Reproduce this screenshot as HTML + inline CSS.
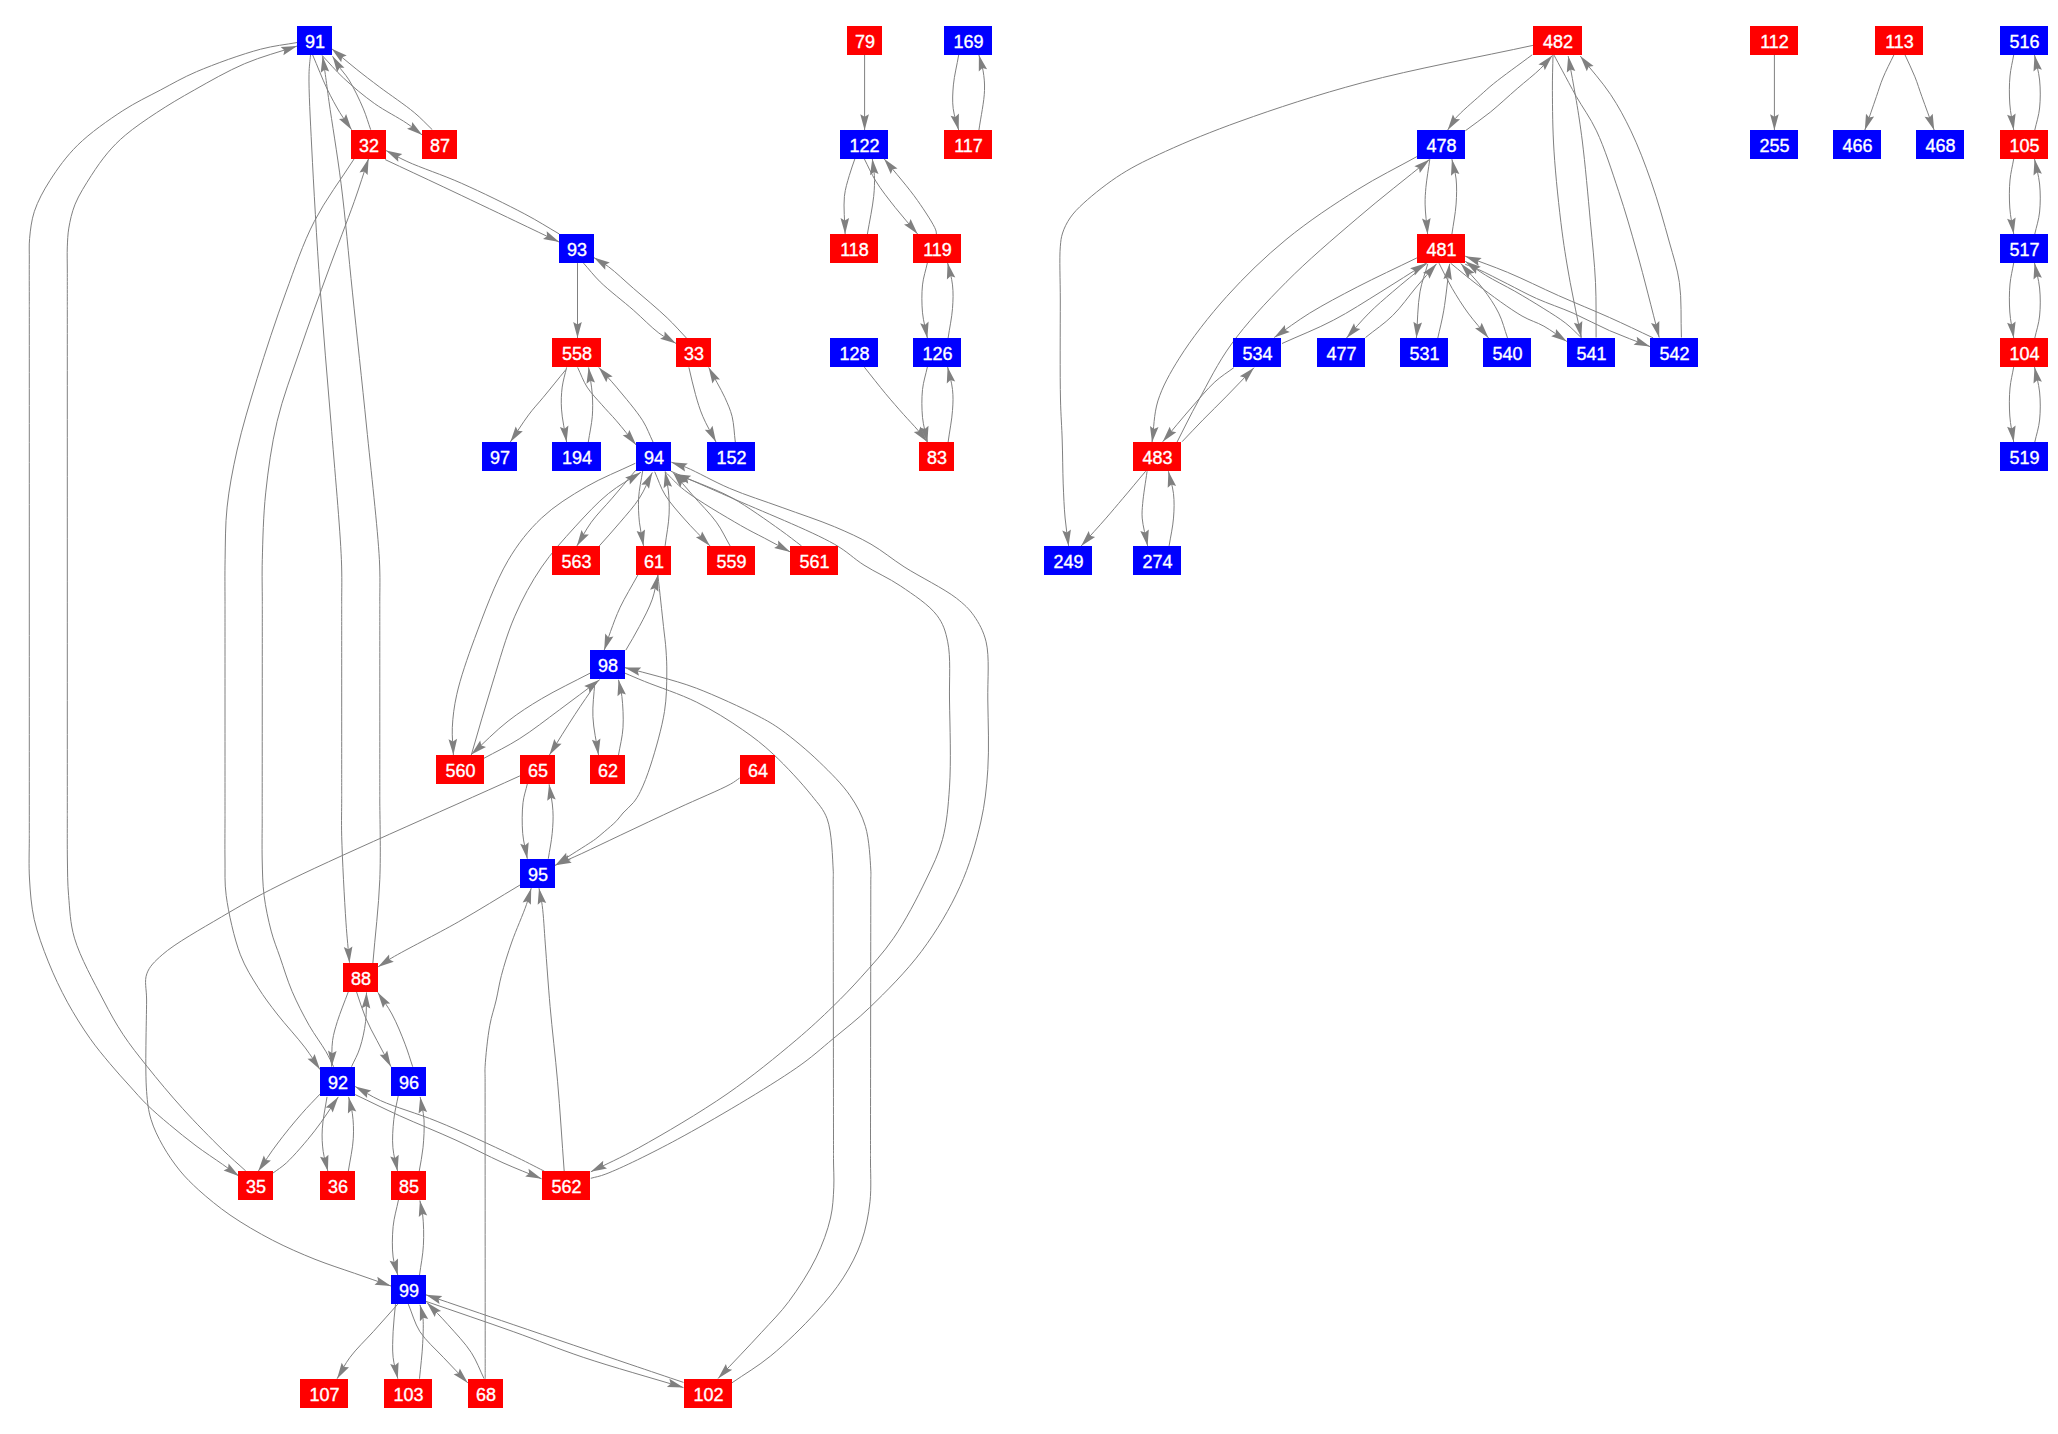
<!DOCTYPE html>
<html><head><meta charset="utf-8"><style>
html,body{margin:0;padding:0;background:#fff;width:2058px;height:1434px;overflow:hidden}
svg{position:absolute;left:0;top:0}
text{font-family:"Liberation Sans",sans-serif;font-size:18px;fill:#fff;stroke:#fff;stroke-width:0.35px;text-anchor:middle}
</style></head><body>
<svg width="2058" height="1434" viewBox="0 0 2058 1434">
<g fill="none" stroke="#808080" stroke-width="1">
<path d="M2013.7,55.0 C2012.5,62.0 2010.7,68.5 2010.0,76.0 C2009.2,84.6 2009.2,94.9 2009.8,104.0 C2010.4,112.9 2012.4,121.3 2013.7,130.0"/>
<path d="M2034.8,130.0 C2036.4,122.7 2038.8,115.8 2039.6,108.0 C2040.5,99.3 2040.5,89.0 2039.6,80.0 C2038.7,71.4 2036.2,63.3 2034.5,55.0"/>
<path d="M2013.7,159.0 C2012.5,166.0 2010.7,172.5 2010.0,180.0 C2009.2,188.6 2009.2,198.9 2009.8,208.0 C2010.4,216.9 2012.4,225.3 2013.7,234.0"/>
<path d="M2034.8,234.0 C2036.4,226.7 2038.8,219.8 2039.6,212.0 C2040.5,203.3 2040.5,193.0 2039.6,184.0 C2038.7,175.4 2036.2,167.3 2034.5,159.0"/>
<path d="M2013.7,263.0 C2012.5,270.0 2010.7,276.5 2010.0,284.0 C2009.2,292.6 2009.2,302.9 2009.8,312.0 C2010.4,320.9 2012.4,329.3 2013.7,338.0"/>
<path d="M2034.8,338.0 C2036.4,330.7 2038.8,323.8 2039.6,316.0 C2040.5,307.3 2040.5,297.0 2039.6,288.0 C2038.7,279.4 2036.2,271.3 2034.5,263.0"/>
<path d="M2013.7,367.0 C2012.5,374.0 2010.7,380.5 2010.0,388.0 C2009.2,396.6 2009.2,406.9 2009.8,416.0 C2010.4,424.9 2012.4,433.3 2013.7,442.0"/>
<path d="M2034.8,442.0 C2036.4,434.7 2038.8,427.8 2039.6,420.0 C2040.5,411.3 2040.5,401.0 2039.6,392.0 C2038.7,383.4 2036.2,375.3 2034.5,367.0"/>
<path d="M864.6,54.9 L864.6,130.2"/>
<path d="M958.7,54.9 C957.0,64.9 954.3,75.4 953.4,84.9 C952.7,93.2 952.2,100.9 953.2,108.6 C954.1,116.0 956.9,123.0 958.7,130.2"/>
<path d="M978.9,130.2 C980.8,116.9 984.2,101.4 984.5,90.4 C984.8,82.8 984.1,77.1 983.1,70.9 C982.2,65.3 980.3,60.2 978.9,54.9"/>
<path d="M854.9,158.8 C853.0,164.3 851.0,169.6 849.3,175.5 C847.4,182.0 845.3,188.3 844.4,196.4 C843.3,207.1 844.9,221.5 845.1,234.0"/>
<path d="M867.4,234.0 C869.5,221.5 872.6,207.1 873.7,196.4 C874.5,188.4 874.7,182.1 874.4,175.5 C874.1,169.6 873.0,164.3 872.3,158.8"/>
<path d="M864.3,158.8 C868.1,166.2 871.1,173.5 875.8,181.1 C881.1,189.7 888.4,198.8 895.3,207.6 C902.3,216.5 910.2,225.2 917.6,234.0"/>
<path d="M936.4,234.0 C936.2,232.6 936.4,231.8 935.7,229.9 C933.7,224.4 924.9,211.0 917.6,200.6 C908.5,187.6 895.3,172.7 884.1,158.8"/>
<path d="M927.4,262.8 C925.8,270.2 923.4,277.0 922.5,284.9 C921.6,293.6 921.7,303.7 922.5,312.8 C923.4,321.5 925.8,329.7 927.4,338.2"/>
<path d="M948.1,338.2 C949.5,328.3 951.8,317.9 952.5,308.6 C953.1,300.3 953.4,292.6 952.5,284.9 C951.7,277.3 949.3,270.2 947.6,262.8"/>
<path d="M927.4,366.9 C925.8,374.4 923.4,381.5 922.5,389.5 C921.6,398.3 921.7,408.4 922.5,417.4 C923.4,426.0 925.8,433.9 927.4,442.2"/>
<path d="M948.1,442.2 C949.5,431.6 951.9,419.9 952.5,410.4 C953.1,402.7 953.3,396.6 952.5,389.5 C951.7,382.1 949.3,374.4 947.6,366.9"/>
<path d="M864.4,367.2 C871.4,376.0 878.7,385.4 885.6,393.7 C891.8,401.1 898.0,408.2 903.7,414.6 C908.6,420.1 913.5,425.1 917.6,429.9 C921.2,434.1 924.0,437.9 927.1,441.8"/>
<path d="M1774.4,54.9 L1774.4,130.2"/>
<path d="M1893.9,54.9 C1890.2,62.6 1885.9,70.6 1882.9,78.0 C1880.2,84.5 1878.9,89.5 1876.4,96.6 C1873.1,106.2 1868.7,119.0 1864.8,130.2"/>
<path d="M1905.0,54.9 C1908.3,62.2 1912.0,69.6 1914.9,76.8 C1917.6,83.5 1919.2,89.2 1921.9,96.6 C1925.4,106.4 1930.1,119.0 1934.2,130.2"/>
<path d="M1532.2,54.8 C1519.4,64.4 1503.1,76.0 1493.7,83.6 C1488.0,88.2 1485.5,90.7 1480.3,95.3 C1473.2,101.7 1460.9,112.0 1455.2,118.7 C1451.7,123.0 1450.2,126.3 1447.7,130.1"/>
<path d="M1465.3,130.8 C1473.6,124.5 1482.0,118.8 1490.4,112.1 C1499.3,104.8 1508.5,96.1 1517.2,88.6 C1525.2,81.6 1534.3,74.7 1540.6,68.5 C1545.3,63.9 1548.4,59.8 1552.3,55.5"/>
<path d="M1429.8,159.2 C1428.5,168.6 1426.7,179.2 1425.9,187.4 C1425.4,193.6 1425.0,197.7 1425.1,204.1 C1425.2,212.7 1426.8,224.2 1427.6,234.2"/>
<path d="M1451.9,234.2 C1453.3,224.2 1455.4,213.7 1456.1,204.1 C1456.7,195.4 1456.9,186.8 1456.1,179.0 C1455.3,172.0 1453.3,165.8 1451.9,159.2"/>
<path d="M1553.0,55.1 C1552.8,66.9 1552.3,77.0 1552.4,90.4 C1552.5,107.9 1552.6,129.4 1554.0,151.1 C1555.6,176.1 1559.0,208.1 1562.1,231.9 C1564.6,250.8 1567.1,265.3 1570.2,282.5 C1573.5,300.5 1577.6,319.2 1581.3,337.5"/>
<path d="M1596.1,337.5 C1595.9,319.2 1596.4,301.3 1595.5,282.5 C1594.6,262.7 1592.4,243.5 1590.4,221.8 C1588.1,196.8 1585.1,163.3 1582.3,141.0 C1580.3,125.2 1578.6,114.3 1576.3,100.5 C1573.9,86.0 1570.9,70.9 1568.2,56.1"/>
<path d="M1554.0,55.1 C1556.7,60.1 1559.0,64.5 1562.1,70.2 C1566.2,77.8 1571.1,87.2 1576.3,96.5 C1582.4,107.2 1590.2,117.5 1596.5,130.9 C1604.6,148.0 1611.9,171.2 1618.7,191.5 C1625.4,211.6 1630.7,230.1 1636.9,252.1 C1644.2,278.1 1651.8,309.0 1659.2,337.5"/>
<path d="M1681.4,337.5 C1680.7,319.2 1681.8,299.3 1679.4,282.5 C1677.3,267.9 1673.4,256.8 1669.3,242.0 C1664.3,223.8 1657.8,200.5 1651.1,181.4 C1644.9,163.7 1638.2,146.1 1630.9,130.9 C1624.5,117.6 1618.6,106.5 1610.6,94.5 C1601.9,81.5 1590.4,68.9 1580.3,56.1"/>
<path d="M1416.9,156.6 C1397.0,167.7 1377.6,177.0 1357.2,189.8 C1334.1,204.2 1308.0,221.5 1286.0,239.6 C1264.6,257.2 1244.7,276.5 1226.7,296.5 C1209.2,316.0 1191.3,339.0 1179.3,358.2 C1169.9,373.2 1162.5,386.4 1157.9,400.9 C1153.7,414.5 1154.0,428.5 1152.0,442.4"/>
<path d="M1176.9,442.4 C1184.0,428.5 1190.1,415.7 1198.3,400.9 C1207.9,383.3 1217.9,362.6 1231.5,344.0 C1246.6,323.1 1266.0,302.5 1286.0,282.3 C1307.6,260.5 1333.1,238.9 1357.2,218.3 C1380.9,197.9 1405.4,179.1 1429.5,159.4"/>
<path d="M1416.9,257.9 C1397.0,267.6 1375.8,277.4 1357.2,287.0 C1340.3,295.8 1324.2,304.2 1309.7,313.1 C1296.8,321.1 1286.0,329.4 1274.2,337.5"/>
<path d="M1282.0,343.5 C1299.1,335.7 1316.9,328.9 1333.4,320.2 C1349.8,311.7 1365.3,301.4 1380.9,291.8 C1396.1,282.4 1410.9,272.8 1425.9,263.3"/>
<path d="M1427.1,263.3 C1415.7,272.8 1403.0,282.9 1392.7,291.8 C1384.0,299.3 1376.6,305.5 1369.0,313.1 C1361.2,320.9 1354.0,329.7 1346.5,338.0"/>
<path d="M1365.5,337.5 C1374.5,330.2 1384.3,323.8 1392.7,315.5 C1401.4,307.0 1408.8,296.0 1416.4,287.0 C1423.4,278.9 1429.9,271.5 1436.6,263.8"/>
<path d="M1427.8,263.8 C1425.2,273.1 1421.9,281.2 1420.0,291.8 C1417.6,305.2 1417.6,322.6 1416.4,338.0"/>
<path d="M1437.8,338.0 C1439.8,328.9 1441.9,321.1 1443.7,310.8 C1446.0,297.3 1447.7,279.4 1449.6,263.8"/>
<path d="M1233.8,367.7 C1227.5,372.4 1221.3,376.1 1214.9,381.9 C1207.1,389.0 1199.3,398.7 1191.1,408.0 C1182.0,418.4 1172.2,430.4 1162.7,441.7"/>
<path d="M1182.1,441.7 C1189.1,434.4 1195.8,427.2 1203.0,419.8 C1210.6,412.1 1218.6,404.4 1226.7,396.1 C1235.5,387.1 1244.9,377.2 1254.0,367.7"/>
<path d="M1439.0,263.2 C1443.3,271.6 1447.3,280.1 1452.1,288.3 C1457.0,296.7 1462.2,305.0 1468.1,313.1 C1474.3,321.5 1481.7,329.6 1488.5,337.9"/>
<path d="M1507.5,337.9 C1504.5,329.6 1502.7,321.1 1498.7,313.1 C1494.5,304.6 1488.8,296.3 1482.7,288.3 C1476.2,279.8 1468.1,271.8 1460.8,263.5"/>
<path d="M1450.6,263.2 C1459.8,270.6 1467.9,277.6 1478.3,285.4 C1491.1,295.0 1509.7,308.9 1522.0,316.0 C1530.3,320.8 1536.7,322.1 1543.9,326.2 C1551.6,330.6 1559.3,336.4 1566.9,341.5"/>
<path d="M1581.5,337.9 C1576.3,333.0 1571.7,327.9 1565.8,323.3 C1559.3,318.2 1551.8,313.7 1543.9,308.7 C1534.9,303.0 1524.5,296.8 1514.8,291.2 C1505.1,285.7 1494.3,280.5 1485.6,275.2 C1478.1,270.6 1472.0,266.0 1465.2,261.3"/>
<path d="M1465.2,264.3 C1469.6,266.0 1473.1,267.1 1478.3,269.4 C1486.2,272.8 1497.7,279.1 1507.5,283.9 C1517.2,288.8 1526.3,293.9 1536.6,298.5 C1548.0,303.6 1561.0,307.8 1573.1,313.1 C1585.3,318.5 1596.9,325.1 1609.5,330.6 C1622.6,336.3 1636.5,341.3 1650.0,346.6"/>
<path d="M1653.2,337.9 C1638.7,331.1 1624.7,324.3 1609.5,317.5 C1593.2,310.2 1575.4,303.1 1558.5,295.6 C1541.4,288.0 1523.8,279.1 1507.5,272.3 C1492.8,266.2 1479.3,261.6 1465.2,256.2"/>
<path d="M1535.6,44.8 C1477.8,57.4 1414.8,68.7 1362.3,82.7 C1317.7,94.6 1275.5,108.5 1240.0,121.3 C1211.9,131.4 1186.9,141.6 1165.5,151.4 C1148.7,159.1 1135.3,165.3 1121.6,174.0 C1108.1,182.5 1093.1,194.5 1083.9,202.9 C1077.9,208.4 1073.7,212.6 1070.1,217.9 C1066.8,222.7 1064.2,228.0 1062.6,233.0 C1061.1,237.6 1060.8,240.7 1060.3,246.8 C1059.3,258.7 1060.3,279.5 1060.3,300.0 C1060.3,328.1 1059.9,374.2 1060.5,400.0 C1060.9,416.3 1061.8,426.4 1062.2,440.0 C1062.7,454.3 1062.7,470.2 1063.2,483.9 C1063.7,496.0 1064.1,507.2 1065.1,518.0 C1066.0,527.8 1067.4,536.6 1068.6,545.9"/>
<path d="M1145.7,471.2 C1138.0,480.3 1129.8,490.3 1122.7,498.6 C1116.7,505.7 1112.2,511.1 1106.1,518.1 C1098.7,526.6 1089.5,536.6 1081.2,545.9"/>
<path d="M1147.1,471.2 C1145.6,481.9 1143.4,494.7 1142.7,503.4 C1142.2,509.2 1141.8,512.5 1142.2,518.1 C1142.8,525.9 1145.8,536.6 1147.6,545.9"/>
<path d="M1169.1,545.9 C1170.6,536.6 1172.8,527.1 1173.5,518.1 C1174.2,509.7 1174.4,501.6 1173.5,493.7 C1172.6,486.0 1170.1,478.7 1168.4,471.2"/>
<path d="M312.6,54.8 C317.5,66.2 322.2,78.7 327.1,88.9 C331.3,97.6 335.5,105.3 339.8,112.5 C343.7,118.8 347.7,124.0 351.6,129.7"/>
<path d="M370.7,129.7 C368.2,122.8 366.5,116.3 363.4,108.9 C359.6,99.9 353.8,87.7 348.9,79.8 C345.3,74.0 340.9,69.7 338.0,65.3 C335.8,62.0 334.4,59.3 332.6,56.3"/>
<path d="M322.1,55.4 C329.2,62.9 335.4,70.5 343.5,78.0 C352.6,86.5 363.6,95.8 374.3,103.4 C384.8,110.9 398.2,117.4 406.9,123.4 C413.2,127.6 417.2,131.2 422.3,135.1"/>
<path d="M432.3,129.7 C426.3,124.0 421.4,118.5 414.2,112.5 C404.7,104.6 390.1,94.9 379.7,87.1 C371.1,80.6 364.0,75.3 356.2,69.0 C348.0,62.5 339.8,55.4 331.7,48.7"/>
<path d="M385.2,159.6 C404.5,168.7 422.8,177.2 443.2,186.8 C466.0,197.6 494.6,211.2 515.7,221.3 C532.1,229.1 544.7,235.2 559.3,242.1"/>
<path d="M559.3,234.0 C547.8,227.3 538.2,221.1 524.8,214.0 C507.0,204.6 481.8,192.3 461.3,183.2 C442.7,174.9 420.7,167.8 406.9,161.4 C398.2,157.4 393.0,154.2 386.1,150.6"/>
<path d="M310.5,54.8 C310.0,61.3 309.2,65.8 309.0,74.4 C308.7,90.9 310.3,118.9 311.7,147.0 C313.6,186.1 316.8,240.8 320.0,287.1 C323.2,332.8 327.4,377.6 331.0,423.0 C334.6,468.5 340.1,527.6 341.4,559.7 C342.1,577.1 341.7,590.5 341.7,600.0 C341.7,605.2 341.7,605.7 341.7,612.0 C341.7,636.3 341.7,763.7 341.7,788.0 C341.7,794.3 341.7,794.9 341.7,800.0 C341.7,808.8 341.3,821.6 341.7,836.3 C342.3,859.0 344.4,899.5 346.0,922.8 C347.1,938.7 348.3,949.4 349.5,962.7"/>
<path d="M372.8,963.9 C375.1,935.8 378.7,907.2 379.8,879.5 C380.9,852.6 379.8,814.8 379.8,800.0 C379.8,794.2 379.8,794.3 379.8,788.0 C379.8,763.7 379.8,636.3 379.8,612.0 C379.8,605.7 379.8,605.2 379.8,600.0 C379.8,590.5 380.3,577.0 379.4,559.7 C377.7,528.1 371.0,470.5 366.5,426.0 C362.0,381.6 356.9,335.1 352.5,292.9 C348.5,254.6 345.3,217.0 341.0,183.2 C337.3,154.0 331.8,121.5 329.0,101.6 C327.4,90.1 326.5,82.5 325.3,74.4 C324.4,67.8 323.5,62.3 322.6,56.3"/>
<path d="M297.2,42.5 C285.0,44.7 274.3,45.6 260.6,49.2 C242.0,54.1 214.6,64.0 196.5,71.7 C182.6,77.7 172.6,83.6 160.5,90.0 C148.0,96.6 135.6,102.4 122.8,110.7 C108.1,120.3 90.2,132.8 77.6,145.2 C66.4,156.2 57.5,168.7 50.0,180.4 C43.4,190.7 37.8,201.1 34.4,211.3 C31.4,220.4 30.4,229.9 29.6,238.5 C28.9,246.1 29.4,251.7 29.3,260.0 C29.2,271.3 29.3,290.6 29.3,300.0 C29.3,305.2 29.3,305.1 29.3,312.0 C29.3,357.5 29.3,782.5 29.3,828.0 C29.3,834.9 29.3,834.9 29.3,840.0 C29.3,849.3 28.7,865.9 29.5,879.0 C30.3,892.3 31.2,905.8 34.2,919.3 C37.4,933.5 42.9,948.1 48.4,961.9 C53.9,975.7 60.4,989.3 67.4,1002.2 C74.3,1014.8 82.4,1027.6 90.0,1038.4 C96.6,1047.8 103.2,1055.5 109.9,1063.6 C116.4,1071.4 123.4,1079.0 129.8,1086.1 C135.7,1092.6 140.7,1098.6 147.0,1104.7 C153.8,1111.4 161.6,1118.0 169.5,1124.6 C177.9,1131.7 187.1,1139.1 196.0,1145.8 C204.7,1152.3 214.7,1158.8 222.5,1164.3 C228.7,1168.7 233.6,1172.2 239.1,1176.2"/>
<path d="M245.7,1170.9 C238.0,1163.8 231.1,1158.1 222.5,1149.7 C210.9,1138.4 195.5,1122.7 182.8,1108.7 C170.3,1094.9 157.6,1079.6 147.0,1066.3 C138.1,1055.1 130.4,1045.6 123.1,1034.5 C115.8,1023.5 110.2,1013.3 103.3,1000.0 C94.2,982.5 80.1,957.3 74.5,938.2 C70.0,923.0 69.8,909.2 68.6,895.6 C67.5,883.2 67.6,872.2 67.4,860.0 C67.2,847.1 67.3,829.4 67.3,820.0 C67.3,814.8 67.3,814.9 67.3,808.0 C67.3,763.5 67.3,356.5 67.3,312.0 C67.3,305.1 67.3,304.9 67.3,300.0 C67.3,292.3 67.3,279.3 67.3,270.0 C67.3,261.8 67.0,254.2 67.3,246.9 C67.6,240.3 67.7,234.7 68.8,228.1 C70.1,220.6 71.8,212.3 75.1,204.2 C78.9,194.8 85.7,184.3 91.4,175.4 C96.6,167.3 101.9,159.7 107.7,152.8 C113.2,146.3 118.3,141.1 125.3,135.2 C134.0,127.8 145.6,119.9 156.7,112.6 C168.5,104.8 180.7,97.6 194.3,90.0 C209.7,81.3 227.3,71.1 244.6,63.7 C261.7,56.4 279.7,51.9 297.2,46.0"/>
<path d="M354.3,158.6 C341.0,179.5 325.7,199.2 314.3,221.4 C302.7,244.0 294.9,267.8 285.7,292.9 C275.8,320.0 265.5,351.2 257.1,378.6 C249.5,403.4 242.2,427.4 237.1,450.0 C232.6,470.0 229.1,488.4 227.1,507.1 C225.2,524.9 225.4,543.3 225.1,559.7 C224.8,574.0 225.0,590.5 225.0,600.0 C225.0,605.2 225.0,605.6 225.0,612.0 C225.0,637.9 225.0,782.1 225.0,808.0 C225.0,814.4 225.0,814.8 225.0,820.0 C225.0,829.4 224.8,847.1 225.0,860.0 C225.2,872.2 224.4,882.3 226.2,895.6 C228.5,912.9 234.1,938.3 240.4,954.8 C245.4,967.7 251.8,977.5 258.2,987.7 C264.1,997.2 270.0,1004.8 277.1,1014.0 C285.4,1024.7 297.6,1037.7 305.3,1047.9 C311.2,1055.8 315.1,1062.4 320.0,1069.6"/>
<path d="M333.6,1066.7 C331.1,1061.7 329.2,1057.3 326.0,1051.7 C321.6,1044.0 314.5,1034.8 309.1,1025.3 C303.2,1014.8 297.0,1002.9 292.1,991.4 C287.3,980.2 283.7,967.8 280.0,957.2 C276.8,947.9 273.7,940.6 271.2,931.1 C268.3,920.3 265.6,907.5 264.1,895.6 C262.6,883.8 262.5,872.2 262.2,860.0 C261.9,847.1 262.2,829.4 262.2,820.0 C262.2,814.8 262.2,814.4 262.2,808.0 C262.2,782.1 262.3,637.9 262.3,612.0 C262.3,605.6 262.3,605.2 262.3,600.0 C262.3,590.5 261.9,574.8 262.3,559.7 C262.8,540.2 263.3,515.5 265.7,492.9 C268.2,469.4 271.5,445.0 277.1,421.4 C282.8,397.4 291.7,374.4 300.0,350.0 C308.8,324.0 319.2,295.6 328.6,270.0 C337.3,246.2 347.1,221.6 354.3,201.4 C359.9,185.5 363.8,172.9 368.6,158.6"/>
<path d="M519.9,775.9 C439.9,812.2 332.6,858.6 280.0,884.9 C253.6,898.1 240.9,905.4 221.5,916.9 C201.6,928.7 175.0,943.4 162.2,954.8 C154.6,961.5 149.4,966.4 146.8,973.8 C144.1,981.4 146.6,988.6 146.6,1000.0 C146.5,1021.2 144.9,1069.8 146.6,1091.4 C147.5,1103.4 148.3,1110.3 151.0,1119.3 C153.7,1128.4 158.1,1137.3 162.9,1145.8 C167.8,1154.5 173.9,1163.3 180.1,1170.9 C185.9,1178.0 191.5,1183.4 198.7,1190.0 C207.6,1198.0 218.5,1207.0 230.0,1215.0 C242.8,1223.8 258.1,1232.7 272.5,1240.2 C286.5,1247.4 301.0,1253.7 315.0,1259.3 C328.3,1264.6 341.7,1268.8 354.6,1273.3 C367.0,1277.6 378.9,1281.8 391.0,1286.0"/>
<path d="M348.3,991.8 C344.6,1001.7 340.1,1012.7 337.3,1021.6 C335.2,1028.5 333.6,1033.5 332.6,1040.4 C331.5,1048.4 332.0,1058.0 331.7,1066.7"/>
<path d="M351.5,1066.7 C354.3,1060.5 357.7,1054.9 359.9,1047.9 C362.5,1040.0 364.5,1030.6 365.6,1021.6 C366.7,1012.1 366.2,1002.1 366.5,992.4"/>
<path d="M356.5,991.8 C359.6,1000.5 362.1,1009.5 365.6,1017.8 C368.9,1025.7 372.8,1032.6 376.9,1040.4 C381.3,1048.9 386.3,1058.0 391.0,1066.7"/>
<path d="M412.7,1066.7 C410.1,1059.2 408.2,1052.2 405.1,1044.2 C401.5,1034.8 396.8,1023.1 391.9,1014.0 C387.6,1006.0 382.5,999.6 377.8,992.4"/>
<path d="M320.0,1094.1 C313.9,1100.6 308.0,1106.4 301.6,1113.8 C293.8,1122.7 284.5,1134.0 277.1,1144.0 C270.2,1153.1 264.5,1162.2 258.2,1171.3"/>
<path d="M272.9,1173.1 C277.5,1169.7 281.4,1167.5 286.5,1162.8 C294.5,1155.3 306.0,1141.9 314.7,1130.8 C323.3,1119.9 330.4,1108.2 338.3,1096.9"/>
<path d="M327.0,1096.9 C325.4,1107.5 322.8,1119.1 322.3,1128.9 C321.8,1137.1 322.2,1144.3 323.2,1151.5 C324.2,1158.3 326.3,1164.7 327.9,1171.3"/>
<path d="M348.3,1171.3 C350.0,1160.3 352.8,1148.5 353.3,1138.3 C353.8,1129.6 353.4,1121.2 352.4,1113.8 C351.6,1107.6 349.9,1102.5 348.6,1096.9"/>
<path d="M398.2,1095.9 C396.7,1103.8 394.7,1111.2 393.8,1119.5 C392.9,1128.4 392.1,1138.8 392.9,1147.7 C393.6,1156.0 396.0,1163.4 397.6,1171.3"/>
<path d="M419.2,1171.3 C420.5,1163.4 422.2,1156.0 423.0,1147.7 C423.9,1138.8 424.5,1128.3 424.0,1119.5 C423.4,1111.5 421.4,1104.4 420.2,1096.9"/>
<path d="M355.2,1094.6 C370.0,1101.6 383.8,1108.6 399.5,1115.7 C417.1,1123.7 438.1,1132.0 456.0,1140.2 C472.4,1147.7 488.0,1156.1 503.0,1162.8 C516.5,1168.8 528.8,1173.5 541.6,1178.8"/>
<path d="M544.5,1171.3 C533.8,1165.9 525.5,1161.4 512.5,1155.3 C492.7,1145.9 460.6,1130.9 437.1,1121.4 C417.1,1113.2 395.6,1107.5 380.6,1100.6 C370.3,1095.9 363.7,1091.2 355.2,1086.5"/>
<path d="M398.5,1199.8 C396.7,1208.8 394.0,1217.4 393.1,1226.6 C392.2,1236.4 392.0,1248.2 393.1,1257.0 C394.0,1263.9 396.2,1269.1 397.8,1275.2"/>
<path d="M419.5,1275.2 C420.8,1265.2 422.9,1255.3 423.4,1245.3 C424.0,1235.3 423.6,1223.2 422.7,1215.0 C422.1,1209.3 420.9,1205.3 419.9,1200.5"/>
<path d="M397.8,1304.1 C389.6,1313.3 381.4,1322.6 373.3,1331.6 C365.4,1340.3 356.3,1348.8 350.0,1357.3 C344.6,1364.5 341.4,1371.6 337.1,1378.7"/>
<path d="M395.5,1304.1 C394.7,1313.3 393.5,1322.6 393.1,1331.6 C392.8,1340.3 392.2,1349.1 393.1,1357.3 C393.9,1364.8 396.2,1371.6 397.8,1378.7"/>
<path d="M419.5,1378.7 C420.6,1366.9 422.2,1354.4 422.7,1343.3 C423.2,1333.4 423.7,1322.3 422.7,1315.3 C422.2,1310.9 420.9,1308.3 419.9,1304.8"/>
<path d="M408.3,1304.1 C412.2,1313.3 414.5,1323.0 419.9,1331.6 C425.9,1340.8 435.3,1348.8 443.3,1357.3 C451.3,1365.9 459.6,1374.4 467.8,1382.9"/>
<path d="M484.1,1378.7 C479.8,1370.0 476.8,1361.1 471.3,1352.6 C465.1,1343.0 455.6,1333.3 447.9,1324.6 C440.9,1316.7 433.9,1309.8 426.9,1302.4"/>
<path d="M425.8,1301.3 C454.9,1311.4 485.7,1321.8 513.2,1331.6 C537.9,1340.4 557.7,1348.7 583.2,1357.3 C613.5,1367.4 650.1,1377.5 683.5,1387.6"/>
<path d="M683.5,1382.4 C665.6,1376.4 651.2,1371.5 629.9,1364.3 C598.4,1353.6 549.3,1336.9 513.2,1324.6 C482.0,1314.0 454.9,1304.7 425.8,1294.8"/>
<path d="M577.5,263.1 L577.5,338.0"/>
<path d="M583.5,263.1 C589.1,269.3 593.4,275.2 600.2,281.9 C609.2,290.7 623.4,301.3 633.7,310.4 C642.7,318.3 651.0,327.1 658.8,333.0 C664.9,337.5 670.3,339.9 676.0,343.4"/>
<path d="M686.4,338.0 C680.0,331.3 674.7,325.0 667.2,317.9 C657.7,308.8 644.1,297.6 633.7,288.6 C624.7,280.8 616.0,272.3 608.6,266.8 C603.2,262.9 598.8,260.7 593.9,257.6"/>
<path d="M565.9,369.6 C558.3,378.8 550.0,389.2 543.2,397.4 C537.8,403.9 533.5,408.3 528.6,414.9 C522.6,422.9 516.4,433.0 510.3,442.0"/>
<path d="M566.6,367.4 C565.2,374.0 563.1,380.3 562.2,387.1 C561.3,394.2 561.0,401.1 561.5,409.1 C562.1,419.0 564.9,431.1 566.6,442.0"/>
<path d="M588.3,442.0 C589.6,433.5 591.6,424.6 592.3,416.4 C592.8,408.8 592.8,402.1 592.3,394.5 C591.7,385.9 589.8,376.4 588.6,367.4"/>
<path d="M577.6,367.4 C580.8,374.0 583.2,381.0 587.1,387.1 C591.2,393.4 596.8,399.0 601.8,404.7 C606.6,410.2 611.2,414.8 616.4,420.8 C622.6,428.0 629.6,436.9 636.2,445.0"/>
<path d="M653.0,442.0 C649.6,435.0 647.5,428.4 642.8,420.8 C636.4,410.6 624.4,396.8 616.4,387.1 C610.1,379.6 604.7,374.0 598.8,367.4"/>
<path d="M688.9,367.4 C691.1,376.4 693.0,385.9 695.5,394.5 C697.7,402.2 699.6,408.9 702.8,416.4 C706.3,424.8 711.6,433.5 716.0,442.0"/>
<path d="M735.3,442.0 C734.2,433.5 734.0,424.2 732.1,416.4 C730.3,409.5 727.9,404.3 724.8,397.4 C720.6,388.4 714.0,377.4 708.7,367.4"/>
<path d="M635.9,470.1 C628.0,479.4 619.9,489.1 612.2,498.1 C605.0,506.5 597.3,513.9 591.3,522.2 C585.7,529.9 581.7,538.0 576.9,545.9"/>
<path d="M599.3,545.9 C606.3,538.0 613.5,530.2 620.2,522.2 C626.8,514.3 634.0,506.6 639.4,498.1 C644.7,490.0 648.0,481.0 652.3,472.5"/>
<path d="M642.7,470.9 C641.3,479.9 639.1,489.3 638.6,498.1 C638.2,506.4 638.6,514.2 639.4,522.2 C640.3,530.1 642.1,538.0 643.5,545.9"/>
<path d="M665.1,545.9 C666.4,535.3 668.7,524.0 669.1,514.2 C669.5,505.6 669.1,497.6 668.3,490.1 C667.6,483.5 666.2,477.8 665.1,471.7"/>
<path d="M654.7,471.7 C658.2,479.4 660.5,487.4 665.1,494.9 C670.2,503.2 677.3,510.9 684.4,519.0 C692.1,527.9 701.5,536.9 710.0,545.9"/>
<path d="M730.1,545.9 C725.5,538.0 722.1,530.1 716.4,522.2 C709.9,513.1 699.9,503.6 692.4,494.9 C685.6,487.1 679.5,479.9 673.1,472.5"/>
<path d="M665.1,471.7 C671.5,477.8 675.8,483.4 684.4,490.1 C697.8,500.6 725.6,516.7 740.5,525.4 C750.1,530.9 756.4,533.9 764.6,538.2 C773.0,542.7 781.7,547.3 790.2,551.9"/>
<path d="M801.5,545.9 C794.5,540.7 789.1,536.2 780.6,530.2 C768.0,521.2 747.2,506.3 732.5,498.1 C721.0,491.8 710.6,487.9 700.4,483.7 C691.4,480.0 683.3,477.3 674.7,474.1"/>
<path d="M637.8,575.1 C632.0,585.8 625.0,597.1 620.2,607.2 C616.2,615.7 613.4,623.7 610.6,631.3 C608.1,637.9 606.3,643.9 604.2,650.2"/>
<path d="M625.8,650.2 C630.4,642.3 635.1,634.7 639.4,626.4 C644.0,617.8 649.2,608.1 652.3,599.2 C655.1,591.1 656.0,583.1 657.9,575.1"/>
<path d="M635.3,463.3 C618.9,471.2 601.8,477.7 586.2,486.8 C570.6,495.9 554.6,505.7 541.6,518.0 C528.6,530.3 518.2,543.3 508.1,560.4 C495.4,581.8 483.6,614.5 474.6,638.5 C467.2,658.5 460.5,677.9 456.8,694.3 C454.0,706.7 452.8,717.1 452.3,727.7 C451.9,737.3 453.1,745.9 453.4,755.0"/>
<path d="M471.3,755.0 C478.3,731.0 485.1,706.6 492.5,683.1 C499.6,660.4 506.0,636.4 514.8,616.2 C522.6,598.2 531.3,582.2 541.6,567.1 C551.5,552.5 563.6,539.5 575.0,526.9 C585.9,515.0 596.9,502.9 608.5,493.5 C619.0,485.0 630.1,479.3 640.9,472.3"/>
<path d="M590.2,673.1 C574.0,681.6 556.1,690.1 541.6,698.7 C529.2,706.1 519.2,712.4 508.1,721.1 C495.7,730.7 483.5,743.4 471.3,754.5"/>
<path d="M483.5,758.5 C495.4,752.0 507.2,746.5 519.2,738.9 C532.5,730.5 546.1,719.7 559.4,709.9 C572.8,700.0 586.2,689.8 599.6,679.8"/>
<path d="M596.2,683.1 C589.2,693.5 582.3,703.2 575.0,714.4 C566.8,726.9 557.9,741.4 549.4,755.0"/>
<path d="M594.7,683.1 C594.1,694.3 592.4,705.1 592.9,716.6 C593.4,729.0 596.6,742.2 598.5,755.0"/>
<path d="M618.5,755.0 C620.0,745.9 622.4,737.2 623.0,727.7 C623.6,717.7 622.9,705.3 621.9,696.5 C621.1,690.0 619.7,685.4 618.5,679.8"/>
<path d="M527.3,784.0 C525.9,790.3 523.8,795.7 523.0,802.7 C522.0,811.7 521.9,823.7 522.7,833.4 C523.5,842.3 525.8,850.3 527.3,858.7"/>
<path d="M548.3,858.7 C549.6,850.3 551.4,841.7 552.2,833.4 C552.9,825.6 553.4,818.3 552.9,810.4 C552.5,802.0 550.4,793.0 549.1,784.3"/>
<path d="M739.6,778.1 C736.5,780.1 734.9,781.7 730.4,784.2 C720.2,789.8 696.1,799.7 678.3,808.0 C659.4,816.7 637.6,827.1 620.2,835.3 C606.1,842.0 593.4,848.1 581.8,853.5 C572.2,857.9 564.1,861.4 555.3,865.3"/>
<path d="M657.9,575.1 C659.8,592.2 662.0,612.7 663.5,626.5 C664.5,635.8 665.5,642.2 666.0,650.0 C666.5,657.7 666.9,664.4 666.8,673.0 C666.7,684.2 666.7,697.6 664.5,711.4 C661.9,727.9 655.4,750.4 650.7,765.0 C647.3,775.5 643.8,784.6 640.4,791.4 C638.1,796.1 636.2,799.1 633.4,802.6 C630.4,806.3 626.0,809.7 623.0,813.0 C620.6,815.7 619.3,818.0 616.7,820.7 C613.3,824.2 608.0,828.6 604.2,831.8 C601.1,834.4 598.8,836.5 595.8,838.8 C592.6,841.2 589.3,843.2 585.3,845.8 C580.2,849.1 573.2,853.4 567.9,856.9 C563.3,859.9 559.5,862.5 555.3,865.3"/>
<path d="M520.0,885.0 C499.4,897.3 479.4,909.9 458.3,921.9 C436.7,934.2 405.6,949.7 391.8,957.9 C385.4,961.7 382.6,963.9 378.0,966.9"/>
<path d="M485.2,1378.7 C485.2,1374.7 485.2,1373.3 485.2,1366.7 C485.2,1334.2 485.1,1111.2 485.1,1078.7 C485.1,1072.1 484.8,1071.9 485.1,1066.7 C485.6,1057.0 487.6,1037.3 489.8,1025.3 C491.5,1015.8 494.3,1008.4 496.2,1000.0 C498.1,991.8 499.1,984.2 501.4,975.5 C504.1,965.1 507.8,953.4 511.8,942.0 C516.1,929.8 523.1,914.4 526.5,904.4 C528.7,897.9 529.6,893.6 531.2,888.2"/>
<path d="M564.2,1171.2 C562.0,1141.4 560.1,1110.3 557.6,1081.8 C555.3,1055.6 552.2,1030.4 550.1,1006.5 C548.2,984.7 546.7,962.4 545.3,944.1 C544.2,929.7 543.6,915.7 542.2,905.4 C541.3,898.5 540.1,893.9 539.0,888.2"/>
<path d="M670.5,471.0 C690.2,479.7 707.2,487.1 729.7,497.1 C759.7,510.5 810.6,530.6 834.4,544.2 C847.8,551.8 853.4,558.4 864.0,565.1 C875.4,572.4 888.7,577.9 900.6,586.0 C913.2,594.6 929.3,605.0 937.2,615.7 C943.3,623.9 945.5,631.1 947.7,641.8 C950.9,657.1 949.2,678.6 949.5,700.0 C949.9,726.1 951.2,761.8 949.5,787.1 C948.2,806.8 946.8,823.3 942.5,839.4 C938.6,854.1 932.9,865.5 925.9,880.0 C917.3,897.9 905.1,921.4 893.4,938.4 C883.2,953.2 871.6,965.4 861.0,977.3 C851.5,987.9 843.1,996.6 832.9,1006.5 C821.6,1017.5 810.6,1027.8 796.2,1040.0 C777.0,1056.2 752.0,1076.7 727.0,1094.0 C699.8,1112.8 663.6,1134.0 638.4,1148.0 C620.3,1158.0 606.7,1163.9 590.8,1171.8"/>
<path d="M590.8,1178.3 C595.8,1176.9 599.2,1176.6 605.9,1174.0 C621.1,1168.2 650.8,1153.7 677.3,1139.4 C712.3,1120.5 768.3,1087.4 796.2,1068.1 C812.4,1056.9 820.7,1048.9 832.9,1038.9 C845.2,1028.7 856.8,1019.9 869.7,1007.5 C885.9,991.9 906.4,971.5 921.5,951.3 C936.5,931.2 950.0,908.7 960.0,886.5 C969.5,865.5 976.1,842.6 980.8,822.0 C984.9,803.8 986.6,788.4 987.8,769.7 C989.2,748.2 988.1,722.2 987.8,700.0 C987.5,679.7 989.7,657.1 986.1,641.8 C983.5,631.1 979.1,623.2 973.9,615.7 C969.1,608.8 964.3,604.4 956.4,598.2 C944.0,588.5 919.4,576.6 904.1,566.8 C891.7,558.8 882.6,550.9 871.0,544.2 C859.4,537.5 847.8,532.4 834.4,526.7 C818.7,520.1 799.5,513.9 782.1,507.5 C764.6,501.1 746.2,495.4 729.7,488.4 C714.4,481.9 697.0,471.9 686.2,467.4 C680.0,464.8 676.3,463.9 671.3,462.2"/>
<path d="M624.6,673.0 C631.2,675.8 636.3,678.0 644.5,681.4 C657.8,686.8 680.2,694.0 696.7,702.2 C712.9,710.2 729.2,720.4 742.7,729.8 C754.3,737.8 763.0,744.6 773.4,754.3 C785.9,765.9 802.2,783.6 811.8,795.7 C818.5,804.2 823.5,809.0 827.1,818.7 C832.0,832.0 832.5,858.8 833.2,870.0 C833.5,875.4 833.2,875.4 833.2,882.0 C833.2,913.1 833.5,1116.9 833.5,1148.0 C833.5,1154.6 833.5,1155.2 833.5,1160.0 C833.5,1167.2 834.2,1177.9 833.8,1187.2 C833.3,1197.2 833.0,1207.2 830.5,1218.0 C827.6,1230.6 822.5,1244.6 816.0,1257.9 C808.9,1272.5 798.4,1288.6 788.8,1301.5 C780.2,1313.1 771.8,1321.1 761.6,1332.3 C748.9,1346.2 732.6,1363.1 718.1,1378.5"/>
<path d="M731.7,1383.0 C744.7,1374.0 757.6,1366.6 770.7,1355.9 C785.7,1343.6 803.2,1326.4 816.0,1312.3 C826.7,1300.5 835.5,1289.9 843.2,1277.9 C850.6,1266.3 856.9,1254.3 861.4,1241.6 C865.9,1228.9 868.5,1215.2 870.0,1201.7 C871.5,1188.0 870.4,1169.7 870.5,1160.0 C870.5,1154.8 870.5,1154.6 870.5,1148.0 C870.5,1116.9 870.8,913.1 870.8,882.0 C870.8,875.4 871.1,875.2 870.8,870.0 C870.2,860.0 869.3,839.4 865.4,826.4 C861.9,814.9 857.0,805.7 850.1,795.7 C842.2,784.2 830.6,772.8 819.4,762.0 C807.7,750.7 792.5,738.0 781.1,729.8 C772.7,723.8 767.8,721.1 758.1,716.0 C742.7,708.0 714.7,695.2 696.7,688.3 C683.0,683.1 672.1,680.3 659.9,676.8 C648.1,673.4 636.4,670.7 624.6,667.6"/>
</g>
<g fill="#808080" stroke="none">
<path d="M2013.7,130.0 L2007.1,114.8 L2011.7,116.6 L2015.6,113.5 Z"/>
<path d="M2034.5,55.0 L2041.9,69.8 L2037.2,68.2 L2033.5,71.5 Z"/>
<path d="M2013.7,234.0 L2007.1,218.8 L2011.7,220.6 L2015.6,217.5 Z"/>
<path d="M2034.5,159.0 L2041.9,173.8 L2037.2,172.2 L2033.5,175.5 Z"/>
<path d="M2013.7,338.0 L2007.1,322.8 L2011.7,324.6 L2015.6,321.5 Z"/>
<path d="M2034.5,263.0 L2041.9,277.8 L2037.2,276.2 L2033.5,279.5 Z"/>
<path d="M2013.7,442.0 L2007.1,426.8 L2011.7,428.6 L2015.6,425.5 Z"/>
<path d="M2034.5,367.0 L2041.9,381.8 L2037.2,380.2 L2033.5,383.5 Z"/>
<path d="M864.6,130.2 L860.3,114.2 L864.6,116.7 L868.9,114.2 Z"/>
<path d="M958.7,130.2 L950.6,115.8 L955.4,117.1 L958.9,113.6 Z"/>
<path d="M978.9,54.9 L987.1,69.3 L982.4,67.9 L978.8,71.4 Z"/>
<path d="M845.1,234.0 L840.5,218.1 L844.8,220.5 L849.1,218.0 Z"/>
<path d="M872.3,158.8 L878.5,174.1 L874.0,172.1 L870.0,175.2 Z"/>
<path d="M917.6,234.0 L904.0,224.6 L908.9,223.7 L910.6,219.0 Z"/>
<path d="M884.1,158.8 L897.5,168.6 L892.6,169.3 L890.8,173.9 Z"/>
<path d="M927.4,338.2 L920.2,323.3 L924.9,324.9 L928.6,321.6 Z"/>
<path d="M947.6,262.8 L955.3,277.5 L950.6,276.0 L946.9,279.4 Z"/>
<path d="M927.4,442.2 L920.1,427.4 L924.8,429.0 L928.5,425.7 Z"/>
<path d="M947.6,366.9 L955.2,381.6 L950.5,380.1 L946.8,383.4 Z"/>
<path d="M927.1,441.8 L913.8,432.0 L918.7,431.3 L920.5,426.6 Z"/>
<path d="M1774.4,130.2 L1770.1,114.2 L1774.4,116.7 L1778.7,114.2 Z"/>
<path d="M1864.8,130.2 L1866.0,113.7 L1869.2,117.5 L1874.1,116.5 Z"/>
<path d="M1934.2,130.2 L1924.6,116.7 L1929.5,117.5 L1932.7,113.7 Z"/>
<path d="M1447.7,130.1 L1452.9,114.4 L1455.1,118.9 L1460.1,119.2 Z"/>
<path d="M1552.3,55.5 L1544.8,70.3 L1543.3,65.5 L1538.4,64.5 Z"/>
<path d="M1427.6,234.2 L1422.0,218.6 L1426.5,220.8 L1430.6,217.9 Z"/>
<path d="M1451.9,159.2 L1459.4,174.0 L1454.7,172.5 L1451.0,175.8 Z"/>
<path d="M1581.3,337.5 L1573.9,322.7 L1578.6,324.3 L1582.3,321.0 Z"/>
<path d="M1568.2,56.1 L1575.3,71.1 L1570.6,69.4 L1566.8,72.6 Z"/>
<path d="M1659.2,337.5 L1651.0,323.1 L1655.8,324.4 L1659.3,320.9 Z"/>
<path d="M1580.3,56.1 L1593.6,66.0 L1588.7,66.7 L1586.8,71.3 Z"/>
<path d="M1152.0,442.4 L1150.0,425.9 L1153.9,429.0 L1158.5,427.1 Z"/>
<path d="M1429.5,159.4 L1419.8,172.9 L1419.0,168.0 L1414.4,166.2 Z"/>
<path d="M1274.2,337.5 L1284.9,324.9 L1285.3,329.9 L1289.8,332.0 Z"/>
<path d="M1425.9,263.3 L1414.7,275.5 L1414.5,270.5 L1410.1,268.2 Z"/>
<path d="M1346.5,338.0 L1354.0,323.3 L1355.5,328.0 L1360.4,329.0 Z"/>
<path d="M1436.6,263.8 L1429.4,278.7 L1427.8,274.0 L1422.9,273.1 Z"/>
<path d="M1416.4,338.0 L1413.4,321.7 L1417.5,324.6 L1422.0,322.4 Z"/>
<path d="M1449.6,263.8 L1451.9,280.2 L1448.0,277.2 L1443.4,279.1 Z"/>
<path d="M1162.7,441.7 L1169.7,426.7 L1171.4,431.3 L1176.3,432.2 Z"/>
<path d="M1254.0,367.7 L1246.0,382.2 L1244.7,377.4 L1239.8,376.2 Z"/>
<path d="M1488.5,337.9 L1475.0,328.3 L1479.9,327.5 L1481.7,322.8 Z"/>
<path d="M1460.8,263.5 L1474.6,272.7 L1469.7,273.7 L1468.2,278.4 Z"/>
<path d="M1566.9,341.5 L1551.2,336.2 L1555.7,334.0 L1556.0,329.1 Z"/>
<path d="M1465.2,261.3 L1480.8,266.8 L1476.4,268.9 L1476.0,273.9 Z"/>
<path d="M1650.0,346.6 L1633.6,344.7 L1637.5,341.7 L1636.7,336.7 Z"/>
<path d="M1465.2,256.2 L1481.7,257.9 L1477.8,261.0 L1478.6,265.9 Z"/>
<path d="M1068.6,545.9 L1062.3,530.6 L1066.9,532.5 L1070.9,529.5 Z"/>
<path d="M1081.2,545.9 L1088.7,531.1 L1090.2,535.8 L1095.1,536.9 Z"/>
<path d="M1147.6,545.9 L1140.3,531.0 L1145.0,532.6 L1148.8,529.4 Z"/>
<path d="M1168.4,471.2 L1176.1,485.9 L1171.4,484.4 L1167.7,487.8 Z"/>
<path d="M351.6,129.7 L339.0,118.9 L344.0,118.6 L346.1,114.1 Z"/>
<path d="M332.6,56.3 L344.5,67.8 L339.5,67.8 L337.1,72.2 Z"/>
<path d="M422.3,135.1 L407.0,128.8 L411.6,126.9 L412.2,122.0 Z"/>
<path d="M331.7,48.7 L346.7,55.6 L342.1,57.3 L341.2,62.2 Z"/>
<path d="M559.3,242.1 L543.0,239.1 L547.1,236.3 L546.7,231.3 Z"/>
<path d="M386.1,150.6 L402.3,154.1 L398.0,156.8 L398.3,161.8 Z"/>
<path d="M349.5,962.7 L343.8,947.1 L348.3,949.3 L352.4,946.4 Z"/>
<path d="M322.6,56.3 L329.2,71.5 L324.6,69.7 L320.7,72.8 Z"/>
<path d="M239.1,1176.2 L223.6,1170.4 L228.1,1168.3 L228.6,1163.4 Z"/>
<path d="M297.2,46.0 L283.4,55.2 L284.4,50.3 L280.7,47.0 Z"/>
<path d="M320.0,1069.6 L307.5,1058.8 L312.4,1058.4 L314.6,1053.9 Z"/>
<path d="M368.6,158.6 L367.6,175.1 L364.3,171.4 L359.5,172.4 Z"/>
<path d="M391.0,1286.0 L374.5,1284.8 L378.3,1281.6 L377.3,1276.7 Z"/>
<path d="M331.7,1066.7 L328.0,1050.6 L332.2,1053.3 L336.6,1050.9 Z"/>
<path d="M366.5,992.4 L370.3,1008.5 L366.1,1005.9 L361.7,1008.2 Z"/>
<path d="M391.0,1066.7 L379.7,1054.7 L384.6,1054.8 L387.2,1050.6 Z"/>
<path d="M377.8,992.4 L390.2,1003.4 L385.2,1003.7 L383.0,1008.1 Z"/>
<path d="M258.2,1171.3 L263.8,1155.6 L265.9,1160.1 L270.9,1160.5 Z"/>
<path d="M338.3,1096.9 L332.7,1112.5 L330.6,1108.0 L325.6,1107.6 Z"/>
<path d="M327.9,1171.3 L320.0,1156.7 L324.8,1158.1 L328.4,1154.7 Z"/>
<path d="M348.6,1096.9 L356.3,1111.6 L351.6,1110.1 L347.9,1113.4 Z"/>
<path d="M397.6,1171.3 L390.2,1156.4 L394.9,1158.0 L398.7,1154.7 Z"/>
<path d="M420.2,1096.9 L427.1,1112.0 L422.4,1110.2 L418.6,1113.4 Z"/>
<path d="M541.6,1178.8 L525.2,1176.6 L529.2,1173.6 L528.5,1168.7 Z"/>
<path d="M355.2,1086.5 L371.3,1090.5 L367.0,1093.1 L367.1,1098.1 Z"/>
<path d="M397.8,1275.2 L389.6,1260.7 L394.4,1262.1 L398.0,1258.6 Z"/>
<path d="M419.9,1200.5 L427.2,1215.4 L422.5,1213.8 L418.8,1217.1 Z"/>
<path d="M337.1,1378.7 L341.7,1362.8 L344.1,1367.1 L349.0,1367.2 Z"/>
<path d="M397.8,1378.7 L390.2,1364.0 L394.9,1365.5 L398.6,1362.2 Z"/>
<path d="M419.9,1304.8 L428.2,1319.1 L423.4,1317.8 L419.9,1321.3 Z"/>
<path d="M467.8,1382.9 L453.6,1374.3 L458.4,1373.2 L459.8,1368.4 Z"/>
<path d="M426.9,1302.4 L441.1,1311.1 L436.2,1312.2 L434.8,1317.0 Z"/>
<path d="M683.5,1387.6 L666.9,1387.1 L670.6,1383.7 L669.4,1378.8 Z"/>
<path d="M425.8,1294.8 L442.3,1295.9 L438.5,1299.1 L439.5,1304.0 Z"/>
<path d="M577.5,338.0 L573.2,322.0 L577.5,324.5 L581.8,322.0 Z"/>
<path d="M676.0,343.4 L660.1,338.8 L664.4,336.4 L664.6,331.4 Z"/>
<path d="M593.9,257.6 L609.8,262.5 L605.4,264.8 L605.2,269.8 Z"/>
<path d="M510.3,442.0 L515.7,426.4 L517.8,430.8 L522.8,431.2 Z"/>
<path d="M566.6,442.0 L559.9,426.9 L564.6,428.7 L568.4,425.6 Z"/>
<path d="M588.6,367.4 L595.0,382.6 L590.4,380.7 L586.5,383.8 Z"/>
<path d="M636.2,445.0 L622.7,435.3 L627.6,434.5 L629.4,429.9 Z"/>
<path d="M598.8,367.4 L612.7,376.5 L607.8,377.5 L606.3,382.2 Z"/>
<path d="M716.0,442.0 L704.8,429.8 L709.8,430.0 L712.5,425.8 Z"/>
<path d="M708.7,367.4 L720.0,379.4 L715.0,379.3 L712.4,383.5 Z"/>
<path d="M576.9,545.9 L581.5,530.0 L583.9,534.4 L588.9,534.5 Z"/>
<path d="M652.3,472.5 L649.0,488.7 L646.2,484.5 L641.3,484.8 Z"/>
<path d="M643.5,545.9 L636.6,530.9 L641.2,532.6 L645.0,529.4 Z"/>
<path d="M665.1,471.7 L672.1,486.7 L667.4,485.0 L663.6,488.2 Z"/>
<path d="M710.0,545.9 L695.9,537.3 L700.7,536.1 L702.1,531.4 Z"/>
<path d="M673.1,472.5 L686.8,481.8 L681.9,482.7 L680.3,487.4 Z"/>
<path d="M790.2,551.9 L774.1,548.1 L778.3,545.5 L778.1,540.6 Z"/>
<path d="M674.7,474.1 L691.2,475.7 L687.4,478.8 L688.2,483.7 Z"/>
<path d="M604.2,650.2 L605.2,633.6 L608.5,637.4 L613.4,636.4 Z"/>
<path d="M657.9,575.1 L658.4,591.7 L654.8,588.3 L650.1,589.7 Z"/>
<path d="M453.4,755.0 L448.5,739.2 L452.9,741.5 L457.1,738.8 Z"/>
<path d="M640.9,472.3 L629.8,484.6 L629.6,479.7 L625.1,477.4 Z"/>
<path d="M471.3,754.5 L480.2,740.6 L481.3,745.4 L486.0,746.9 Z"/>
<path d="M599.6,679.8 L589.4,692.8 L588.8,687.9 L584.2,685.9 Z"/>
<path d="M549.4,755.0 L554.3,739.1 L556.6,743.6 L561.6,743.7 Z"/>
<path d="M598.5,755.0 L591.9,739.8 L596.5,741.6 L600.4,738.5 Z"/>
<path d="M618.5,679.8 L625.9,694.6 L621.2,693.0 L617.5,696.3 Z"/>
<path d="M527.3,858.7 L520.2,843.8 L524.9,845.4 L528.7,842.2 Z"/>
<path d="M549.1,784.3 L555.7,799.5 L551.1,797.7 L547.2,800.8 Z"/>
<path d="M555.3,865.3 L568.2,854.9 L567.6,859.8 L571.7,862.7 Z"/>
<path d="M555.3,865.3 L566.2,852.8 L566.5,857.8 L571.0,860.0 Z"/>
<path d="M378.0,966.9 L389.1,954.6 L389.3,959.5 L393.8,961.8 Z"/>
<path d="M531.2,888.2 L530.9,904.8 L527.4,901.2 L522.6,902.4 Z"/>
<path d="M539.0,888.2 L546.2,903.1 L541.5,901.5 L537.7,904.7 Z"/>
<path d="M590.8,1171.8 L603.2,1160.8 L602.9,1165.8 L607.0,1168.5 Z"/>
<path d="M671.3,462.2 L687.8,463.4 L684.0,466.6 L685.0,471.5 Z"/>
<path d="M718.1,1378.5 L725.9,1363.9 L727.4,1368.7 L732.2,1369.8 Z"/>
<path d="M624.6,667.6 L641.2,667.5 L637.7,671.0 L639.0,675.8 Z"/>
</g>
<g>
<rect x="297" y="26" width="35" height="29" fill="#0000ff"/>
<text x="315.0" y="48">91</text>
<rect x="847" y="26" width="35" height="29" fill="#ff0000"/>
<text x="865.0" y="48">79</text>
<rect x="944" y="26" width="48" height="29" fill="#0000ff"/>
<text x="968.5" y="48">169</text>
<rect x="1533" y="26" width="49" height="29" fill="#ff0000"/>
<text x="1558.0" y="48">482</text>
<rect x="1750" y="26" width="48" height="29" fill="#ff0000"/>
<text x="1774.5" y="48">112</text>
<rect x="1875" y="26" width="48" height="29" fill="#ff0000"/>
<text x="1899.5" y="48">113</text>
<rect x="2000" y="26" width="48" height="29" fill="#0000ff"/>
<text x="2024.5" y="48">516</text>
<rect x="351" y="130" width="35" height="29" fill="#ff0000"/>
<text x="369.0" y="152">32</text>
<rect x="422" y="130" width="35" height="29" fill="#ff0000"/>
<text x="440.0" y="152">87</text>
<rect x="840" y="130" width="48" height="29" fill="#0000ff"/>
<text x="864.5" y="152">122</text>
<rect x="944" y="130" width="48" height="29" fill="#ff0000"/>
<text x="968.5" y="152">117</text>
<rect x="1417" y="130" width="48" height="29" fill="#0000ff"/>
<text x="1441.5" y="152">478</text>
<rect x="1750" y="130" width="48" height="29" fill="#0000ff"/>
<text x="1774.5" y="152">255</text>
<rect x="1833" y="130" width="48" height="29" fill="#0000ff"/>
<text x="1857.5" y="152">466</text>
<rect x="1916" y="130" width="48" height="29" fill="#0000ff"/>
<text x="1940.5" y="152">468</text>
<rect x="2000" y="130" width="48" height="29" fill="#ff0000"/>
<text x="2024.5" y="152">105</text>
<rect x="559" y="234" width="35" height="29" fill="#0000ff"/>
<text x="577.0" y="256">93</text>
<rect x="830" y="234" width="48" height="29" fill="#ff0000"/>
<text x="854.5" y="256">118</text>
<rect x="913" y="234" width="48" height="29" fill="#ff0000"/>
<text x="937.5" y="256">119</text>
<rect x="1417" y="234" width="48" height="29" fill="#ff0000"/>
<text x="1441.5" y="256">481</text>
<rect x="2000" y="234" width="48" height="29" fill="#0000ff"/>
<text x="2024.5" y="256">517</text>
<rect x="552" y="338" width="49" height="29" fill="#ff0000"/>
<text x="577.0" y="360">558</text>
<rect x="676" y="338" width="35" height="29" fill="#ff0000"/>
<text x="694.0" y="360">33</text>
<rect x="830" y="338" width="48" height="29" fill="#0000ff"/>
<text x="854.5" y="360">128</text>
<rect x="913" y="338" width="48" height="29" fill="#0000ff"/>
<text x="937.5" y="360">126</text>
<rect x="1233" y="338" width="48" height="29" fill="#0000ff"/>
<text x="1257.5" y="360">534</text>
<rect x="1317" y="338" width="48" height="29" fill="#0000ff"/>
<text x="1341.5" y="360">477</text>
<rect x="1400" y="338" width="48" height="29" fill="#0000ff"/>
<text x="1424.5" y="360">531</text>
<rect x="1483" y="338" width="48" height="29" fill="#0000ff"/>
<text x="1507.5" y="360">540</text>
<rect x="1567" y="338" width="48" height="29" fill="#0000ff"/>
<text x="1591.5" y="360">541</text>
<rect x="1650" y="338" width="48" height="29" fill="#0000ff"/>
<text x="1674.5" y="360">542</text>
<rect x="2000" y="338" width="48" height="29" fill="#ff0000"/>
<text x="2024.5" y="360">104</text>
<rect x="482" y="442" width="35" height="29" fill="#0000ff"/>
<text x="500.0" y="464">97</text>
<rect x="552" y="442" width="49" height="29" fill="#0000ff"/>
<text x="577.0" y="464">194</text>
<rect x="636" y="442" width="35" height="29" fill="#0000ff"/>
<text x="654.0" y="464">94</text>
<rect x="707" y="442" width="48" height="29" fill="#0000ff"/>
<text x="731.5" y="464">152</text>
<rect x="919" y="442" width="35" height="29" fill="#ff0000"/>
<text x="937.0" y="464">83</text>
<rect x="1133" y="442" width="48" height="29" fill="#ff0000"/>
<text x="1157.5" y="464">483</text>
<rect x="2000" y="442" width="48" height="29" fill="#0000ff"/>
<text x="2024.5" y="464">519</text>
<rect x="552" y="546" width="48" height="29" fill="#ff0000"/>
<text x="576.5" y="568">563</text>
<rect x="636" y="546" width="35" height="29" fill="#ff0000"/>
<text x="654.0" y="568">61</text>
<rect x="707" y="546" width="48" height="29" fill="#ff0000"/>
<text x="731.5" y="568">559</text>
<rect x="790" y="546" width="48" height="29" fill="#ff0000"/>
<text x="814.5" y="568">561</text>
<rect x="1044" y="546" width="48" height="29" fill="#0000ff"/>
<text x="1068.5" y="568">249</text>
<rect x="1133" y="546" width="48" height="29" fill="#0000ff"/>
<text x="1157.5" y="568">274</text>
<rect x="590" y="650" width="35" height="29" fill="#0000ff"/>
<text x="608.0" y="672">98</text>
<rect x="436" y="755" width="48" height="29" fill="#ff0000"/>
<text x="460.5" y="777">560</text>
<rect x="520" y="755" width="35" height="29" fill="#ff0000"/>
<text x="538.0" y="777">65</text>
<rect x="590" y="755" width="35" height="29" fill="#ff0000"/>
<text x="608.0" y="777">62</text>
<rect x="740" y="755" width="35" height="29" fill="#ff0000"/>
<text x="758.0" y="777">64</text>
<rect x="520" y="859" width="35" height="29" fill="#0000ff"/>
<text x="538.0" y="881">95</text>
<rect x="343" y="963" width="35" height="29" fill="#ff0000"/>
<text x="361.0" y="985">88</text>
<rect x="320" y="1067" width="35" height="29" fill="#0000ff"/>
<text x="338.0" y="1089">92</text>
<rect x="391" y="1067" width="35" height="29" fill="#0000ff"/>
<text x="409.0" y="1089">96</text>
<rect x="238" y="1171" width="35" height="29" fill="#ff0000"/>
<text x="256.0" y="1193">35</text>
<rect x="320" y="1171" width="35" height="29" fill="#ff0000"/>
<text x="338.0" y="1193">36</text>
<rect x="391" y="1171" width="35" height="29" fill="#ff0000"/>
<text x="409.0" y="1193">85</text>
<rect x="542" y="1171" width="48" height="29" fill="#ff0000"/>
<text x="566.5" y="1193">562</text>
<rect x="391" y="1275" width="35" height="29" fill="#0000ff"/>
<text x="409.0" y="1297">99</text>
<rect x="300" y="1379" width="48" height="29" fill="#ff0000"/>
<text x="324.5" y="1401">107</text>
<rect x="384" y="1379" width="48" height="29" fill="#ff0000"/>
<text x="408.5" y="1401">103</text>
<rect x="468" y="1379" width="35" height="29" fill="#ff0000"/>
<text x="486.0" y="1401">68</text>
<rect x="684" y="1379" width="48" height="29" fill="#ff0000"/>
<text x="708.5" y="1401">102</text>
</g>
</svg>
</body></html>
